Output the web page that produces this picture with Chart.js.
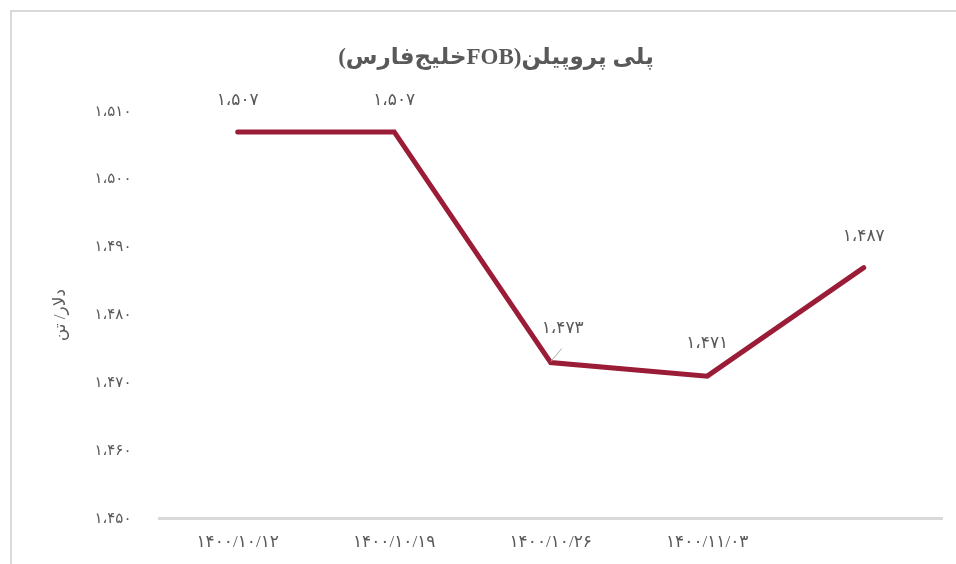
<!DOCTYPE html>
<html>
<head>
<meta charset="utf-8">
<script src="https://cdn.jsdelivr.net/npm/chart.js@4"></script>
<style>
  html, body { margin: 0; padding: 0; background: #fff; }
  #wrap { width: 956px; height: 564px; }
</style>
</head>
<body>
<div id="wrap"><canvas id="priceChart" width="956" height="564"></canvas></div>
<script>
// داده‌ها
const dates = ['1400/10/12', '1400/10/19', '1400/10/26', '1400/11/03', ''];
const prices = [1507, 1507, 1473, 1471, 1487];
const yTicks = [1450, 1460, 1470, 1480, 1490, 1500, 1510];

const faDigits = '۰۱۲۳۴۵۶۷۸۹';
function toFa(s) {
    return String(s).replace(/[0-9]/g, d => faDigits[d]);
}
function fmt(n) {
    const s = String(n);
    return toFa(s.length > 3 ? s.slice(0, s.length - 3) + '،' + s.slice(-3) : s);
}

const FONT = "'Liberation Serif', 'DejaVu Sans', serif";

// قاب دور نمودار
const framePlugin = {
    id: 'frame',
    beforeDraw(chart) {
        const c = chart.ctx;
        c.save();
        c.strokeStyle = '#d9d9d9';
        c.lineWidth = 2;
        c.strokeRect(11, 11, 1000, 1000);
        c.restore();
    }
};

// برچسب مقادیر
const labelPlugin = {
    id: 'valueLabels',
    afterDatasetsDraw(chart) {
        const c = chart.ctx;
        const meta = chart.getDatasetMeta(0);
        c.save();
        c.font = "17px " + FONT;
        c.fillStyle = '#595959';
        c.textAlign = 'center';
        c.textBaseline = 'middle';
        meta.data.forEach((pt, i) => {
            let dx = 0, dy = 31;
            if (i === 2) {
                dx = 12;
                dy = 34;
                c.strokeStyle = '#a6a6a6';
                c.lineWidth = 1;
                c.beginPath();
                c.moveTo(pt.x, pt.y - 1);
                c.lineTo(pt.x + 11, pt.y - 14);
                c.stroke();
            }
            if (i === 3) dy = 33;
            c.fillText(fmt(prices[i]), pt.x + dx, pt.y - dy);
        });
        c.restore();
    }
};

const ctx = document.getElementById('priceChart').getContext('2d');
new Chart(ctx, {
    type: 'line',
    data: {
        labels: dates,
        datasets: [{
            data: prices,
            borderColor: '#9b1c36',
            borderWidth: 5,
            borderCapStyle: 'round',
            borderJoinStyle: 'miter',
            pointRadius: 0,
            tension: 0,
            fill: false
        }]
    },
    options: {
        responsive: false,
        animation: false,
        layout: { padding: { left: 50, right: 14, top: 14, bottom: 5 } },
        plugins: {
            legend: { display: false },
            tooltip: { enabled: false },
            title: {
                display: true,
                text: '\u2067پلی پروپیلن(FOBخلیج‌فارس)\u2069',
                color: '#595959',
                font: { family: FONT, size: 23, weight: 'bold' },
                padding: { top: 30, bottom: 40 }
            }
        },
        scales: {
            x: {
                offset: true,
                grid: { display: false, offset: true },
                border: { color: '#d9d9d9', width: 3 },
                ticks: {
                    color: '#595959',
                    font: { family: FONT, size: 17 },
                    maxRotation: 0,
                    padding: 6,
                    callback: (v, i) => toFa(dates[i])
                }
            },
            y: {
                min: 1450,
                max: 1510,
                afterBuildTicks: axis => { axis.ticks = yTicks.map(v => ({ value: v })); },
                grid: { display: false },
                border: { display: false },
                ticks: {
                    color: '#595959',
                    font: { family: FONT, size: 15 },
                    padding: 20,
                    callback: v => fmt(v)
                },
                title: {
                    display: true,
                    text: 'دلار/ تن',
                    color: '#595959',
                    font: { family: FONT, size: 17 },
                    padding: { top: 0, bottom: 4 }
                }
            }
        }
    },
    plugins: [framePlugin, labelPlugin]
});
</script>
</body>
</html>
